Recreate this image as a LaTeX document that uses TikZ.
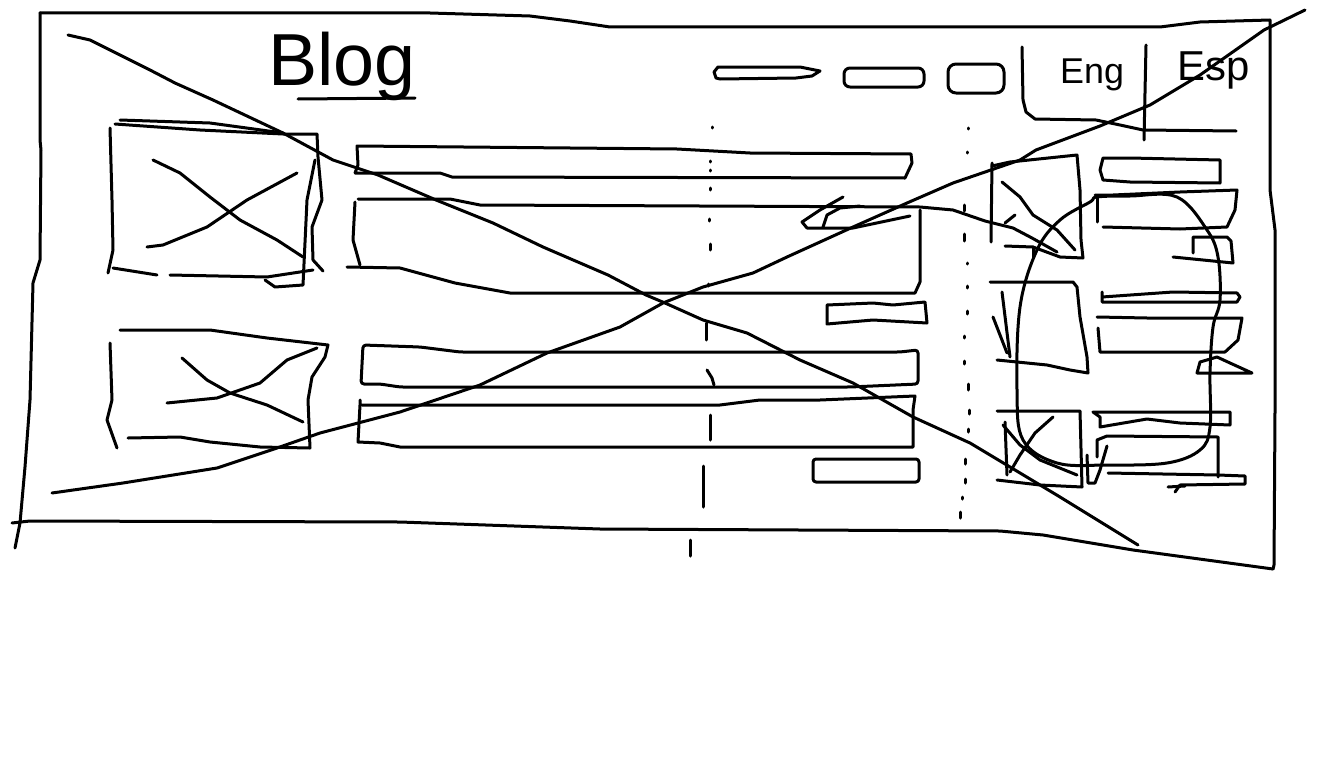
\documentclass[tikz,border=0pt]{standalone}
\usepackage{fontspec}
\setmainfont{Liberation Sans}
\begin{document}
\begin{tikzpicture}[x=1bp,y=-1bp,
  sk/.style={line width=3bp,line cap=round,line join=round},
  txt/.style={inner sep=0pt,anchor=base west}]
\useasboundingbox (0,0) rectangle (1324,760);
\fill[white] (0,0) rectangle (1324,760);
\begin{scope}[sk]
% outer frame
\draw (40,13) -- (430,13) -- (530,16) -- (570,21) -- (610,27) -- (1160,27) -- (1200,22) -- (1270,20)
      -- (1270,190) -- (1275,230) -- (1275,410) -- (1274,565) -- (1273,569);
\draw (40,13) -- (40,140) -- (41,150) -- (40,260) -- (33,283) -- (30,400) -- (25,467) -- (20,523) -- (15,548);
\draw (12,523) -- (30,521) -- (400,522) -- (600,529) -- (1000,531) -- (1043,535) -- (1133,550) -- (1273,569);
% big cross
\draw (68,35) -- (90,40) -- (120,55) -- (150,70) -- (175,83) -- (213,100) -- (283,133) -- (333,160) -- (378,175)
      -- (436,200) -- (493,223) -- (543,247) -- (608,275) -- (646,295) -- (665,303) -- (703,320) -- (747,333)
      -- (800,360) -- (853,383) -- (913,417) -- (970,443) -- (1010,467) -- (1060,497) -- (1138,545);
\draw (52,493) -- (123,483) -- (217,468) -- (277,448) -- (320,433) -- (400,412) -- (480,385) -- (547,353)
      -- (620,327) -- (663,303) -- (703,287) -- (753,273) -- (787,257) -- (853,227) -- (907,203) -- (953,183)
      -- (1020,160) -- (1036,150) -- (1100,126) -- (1150,105) -- (1200,75) -- (1264,30) -- (1305,10);
% Blog underline
\draw (298,99) -- (415,98);
% nav pills
\draw (720,79) -- (796,78) -- (812,76) -- (820,71) -- (800,67) -- (718,67) -- (714,72) -- (716,78) -- cycle;
\draw[rounded corners=6bp] (844,68) rectangle (924,87);
\draw[rounded corners=8bp] (948,64) rectangle (1004,93);
% language tabs
\draw (1022,47) -- (1023,100) -- (1026,112) -- (1035,119) -- (1096,120) -- (1120,125) -- (1143,130) -- (1236,131);
\draw (1146,45) -- (1144,140);
% left images
\draw (115,124) -- (200,130) -- (283,134) -- (317,134) -- (318,157) -- (322,200) -- (312,227) -- (313,260) -- (323,271);
\draw (120,120) -- (210,123) -- (283,133);
\draw (110,128) -- (112,200) -- (113,250) -- (108,273);
\draw (315,160) -- (307,200) -- (303,285) -- (275,287) -- (265,280);
\draw (113,268) -- (157,275);
\draw (170,275) -- (267,277) -- (313,270);
\draw (153,160) -- (180,173) -- (210,197) -- (240,220) -- (277,240) -- (303,257);
\draw (147,247) -- (163,245) -- (207,227) -- (247,200) -- (297,173);
\draw (120,330) -- (210,330) -- (267,338) -- (328,345) -- (325,357) -- (312,377) -- (308,400) -- (310,448)
      -- (260,447) -- (210,442) -- (180,437) -- (128,438);
\draw (110,343) -- (112,400) -- (107,420) -- (117,448);
\draw (182,358) -- (207,380) -- (230,393) -- (267,405) -- (303,422);
\draw (167,403) -- (217,398) -- (260,383) -- (287,360) -- (317,348);
% middle text bars
\draw (355,173) -- (440,173) -- (452,177) -- (905,178) -- (912,163) -- (911,154) -- (750,153) -- (677,149)
      -- (357,146) -- (358,165) -- (355,173);
\draw (358,199) -- (450,199) -- (480,205) -- (920,207) -- (953,210) -- (985,221) -- (1013,228) -- (1032,238) -- (1057,252);
\draw (355,202) -- (353,240) -- (360,265);
\draw (347,267) -- (400,268) -- (455,283) -- (510,293) -- (915,293) -- (920,282) -- (920,210);
\draw (843,197) -- (820,210) -- (802,222) -- (807,228) -- (853,228) -- (910,216);
\draw (823,227) -- (827,215) -- (840,208) -- (860,206);
\draw (827,305) -- (873,303) -- (893,305) -- (925,302) -- (927,323) -- (873,320) -- (827,324) -- cycle;
\draw[rounded corners=3bp] (363,345) -- (420,347) -- (460,352) -- (900,352) -- (918,350) -- (918,384) -- (850,387)
      -- (400,387) -- (380,384) -- (361,384) -- cycle;
\draw (362,405) -- (720,405) -- (760,400) -- (820,400) -- (915,396) -- (913,410) -- (913,447) -- (400,447)
      -- (380,443) -- (358,442) -- (360,405) -- (360,400);
\draw[rounded corners=3bp] (813,459) rectangle (919,482);
% dotted centre line
\foreach \x/\y/\l in {712/127/1,710/161/1,710/170/1,710/188/2,709/219/2,710/244/6,708/284/2}
  \draw (\x,\y) -- ++(0,\l);
\draw (706,323) -- (706,340);
\draw (707,370) -- (712,378) -- (714,385);
\draw (710,415) -- (710,440);
\draw (703,466) -- (703,507);
\draw (690,540) -- (690,556);
% dotted right line
\foreach \x/\y/\l in {968/128/1,967/152/1,964/205/6,964/234/7,967/263/1,967/286/2,967/311/3,964/336/2,964/361/3,968/384/6,969/410/4,968/429/3,965/459/5,965/479/4,962/497/2,960/512/6}
  \draw (\x,\y) -- ++(0,\l);
% right sidebar boxes
\draw (992,166) -- (1010,162) -- (1077,155) -- (1080,190) -- (1081,240) -- (1083,258) -- (1060,257) -- (1033,247) -- (1005,246);
\draw (992,163) -- (991,242);
\draw (1002,182) -- (1020,197) -- (1033,215) -- (1057,230) -- (1075,250);
\draw (1005,223) -- (1015,215);
\draw (1033,247) -- (1033,257);
\draw (990,282) -- (1073,282) -- (1077,287) -- (1080,317) -- (1087,357) -- (1088,373) -- (1070,370) -- (1047,365) -- (997,360);
\draw (1002,292) -- (1010,357);
\draw (993,317) -- (1007,353);
\draw (997,411) -- (1080,411) -- (1082,487) -- (1040,485) -- (997,480);
\draw (1005,422) -- (1007,475);
\draw (1003,425) -- (1020,445) -- (1040,460) -- (1077,475);
\draw (1053,417) -- (1035,433) -- (1020,455) -- (1010,472);
% right sidebar bars
\draw (1103,158) -- (1130,158) -- (1220,160) -- (1220,183) -- (1130,182) -- (1103,180) -- (1100,170) -- cycle;
\draw (1095,195) -- (1113,195) -- (1180,192) -- (1237,190) -- (1235,210) -- (1227,227) -- (1180,229) -- (1103,227);
\draw (1097,198) -- (1097,222);
\draw (1193,253) -- (1193,237) -- (1227,237) -- (1231,241) -- (1233,263) -- (1173,257);
\draw (1102,292) -- (1102,302) -- (1237,302) -- (1240,297) -- (1237,293) -- (1173,292) -- (1102,297);
\draw (1097,317) -- (1147,318) -- (1242,318) -- (1238,340) -- (1225,352) -- (1100,352) -- (1098,328);
\draw (1217,357) -- (1200,362) -- (1197,373) -- (1252,373) -- (1230,363) -- cycle;
\draw (1093,412) -- (1230,412) -- (1230,425) -- (1180,423) -- (1147,419) -- (1100,427) -- (1100,417) -- cycle;
\draw (1097,457) -- (1097,440) -- (1107,436) -- (1218,437) -- (1218,477);
\draw (1108,473) -- (1218,475) -- (1245,476) -- (1245,484) -- (1180,485) -- (1175,492);
\draw (1168,487) -- (1185,486);
\draw (1087,455) -- (1088,483) -- (1095,483) -- (1100,470) -- (1107,446);
% big loop
\draw plot[smooth cycle,tension=0.6] coordinates {(1097,197) (1130,196) (1177,197) (1207,230) (1218,257) (1220,300)
   (1213,327) (1210,373) (1210,427) (1200,450) (1167,463) (1107,465) (1057,463) (1023,440) (1017,390) (1020,307)
   (1037,250) (1060,220) (1090,202)};
\end{scope}
% texts
\node[txt,font=\fontsize{74}{74}\selectfont] (blog) at (268,85) {Blog};
\node[txt,font=\fontsize{36}{36}\selectfont] (eng) at (1060,83) {Eng};
\node[txt,font=\fontsize{42}{42}\selectfont] (esp) at (1177,80) {Esp};
\end{tikzpicture}
\end{document}
